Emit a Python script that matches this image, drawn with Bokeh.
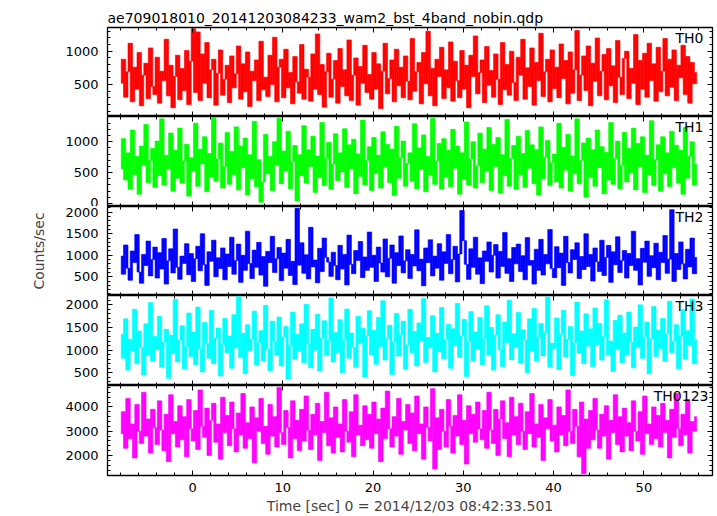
import numpy as np
from bokeh.plotting import figure
from bokeh.layouts import column
from bokeh.models import LinearAxis, SingleIntervalTicker, Range1d, Label, CustomJSTickFormatter, ColumnDataSource
from bokeh.embed import file_html
from bokeh.resources import INLINE

title_text = "ae709018010_20141203084233_wam2_bst_4band_nobin.qdp"
x_label = "Time [sec] 0 = 2014/12/03 08:42:33.501"
y_label = "Counts/sec"
band_names = ["TH0", "TH1", "TH2", "TH3", "TH0123"]
band_colors = ["#ff0000", "#00ff00", "#0000ff", "#00ffff", "#ff00ff"]
y_lo = [20, -48, 65, 220, 1180]
y_hi = [1356, 1408, 2133, 2205, 4880]
y_major = [500, 500, 500, 500, 1000]
x_lo, x_hi = -9.42, 57.6
t_start, t_end = -7.9, 55.85

th0 = [
    520, 880, 310, 690, 1120, 240, 760, 430, 980, 180, 640, 820, 290, 1050, 470, 350,
    910, 220, 700, 560, 1180, 330, 790, 150, 620, 940, 270, 740, 410, 1010, 200, 850,
    1340, 380, 1290, 260, 960, 520, 1130, 300, 720, 880, 190, 670, 1020, 340, 580, 790,
    230, 930, 450, 660, 1080, 280, 810, 390, 990, 170, 700, 560, 870, 260, 1150, 420,
    610, 320, 940, 500, 1210, 240, 760, 880, 300, 1030, 450, 680, 210, 920, 540, 370,
    1100, 280, 730, 610, 250, 960, 430, 1260, 350, 800, 160, 690, 970, 310, 580, 860,
    220, 1040, 470, 720, 330, 1170, 260, 640, 900, 190, 770, 520, 1090, 380, 650, 280,
    980, 430, 810, 140, 700, 1120, 360, 590, 870, 240, 1030, 480, 760, 300, 930, 550,
    270, 1190, 400, 690, 830, 210, 980, 510, 1300, 330, 740, 180, 880, 620, 1060, 290,
    720, 450, 1140, 250, 850, 560, 300, 1010, 430, 790, 150, 940, 620, 1230, 360, 680,
    870, 230, 1070, 490, 710, 310, 960, 580, 200, 1130, 420, 800, 340, 1000, 530, 260,
    910, 640, 1180, 280, 750, 470, 1050, 190, 830, 560, 1270, 320, 690, 880, 240, 1020,
    440, 760, 300, 1110, 590, 860, 210, 990, 370, 720, 1310, 260, 640, 930, 410, 1080,
    180, 820, 550, 1200, 330, 700, 950, 270, 1040, 480, 780, 230, 1160, 610, 350, 890,
    1000, 290, 740, 520, 1250, 200, 860, 430, 970, 310, 1120, 560, 810, 250, 1060, 390,
    700, 1190, 330, 880, 460, 1020, 260, 790, 600, 1090, 350, 920, 220, 830, 510, 680,
]

th1 = [
    560, 1050, 380, 820, 230, 1190, 470, 760, 150, 930, 620, 1280, 340, 700, 890, 260,
    1010, 450, 1370, 300, 780, 560, 1140, 200, 860, 410, 1220, 330, 690, 960, 120, 740,
    520, 1300, 280, 880, 640, 1080, 190, 810, 430, 1390, 360, 720, 980, 250, 600, 1150,
    310, 840, 470, 1240, 220, 930, 580, 1060, 140, 790, 400, 1330, 270, 710, 20, 350,
    1120, 480, 760, 210, 1000, 620, 1380, 320, 850, 530, 1170, 240, 680, 940, 40, 790,
    450, 1260, 330, 870, 600, 1090, 180, 770, 420, 1310, 290, 730, 990, 230, 640, 1130,
    370, 820, 510, 1210, 260, 950, 560, 1040, 160, 800, 440, 1350, 300, 700, 920, 210,
    1070, 490, 780, 250, 1160, 590, 960, 340, 880, 130, 1250, 410, 740, 1010, 280, 650,
    820, 360, 1290, 240, 900, 550, 1110, 190, 760, 460, 1380, 310, 690, 970, 230, 1050,
    430, 860, 270, 1200, 570, 930, 150, 820, 390, 1320, 300, 720, 1000, 250, 610, 1140,
    340, 880, 520, 1230, 210, 960, 600, 1070, 170, 790, 450, 1360, 280, 730, 940, 230,
    1090, 470, 810, 260, 1180, 570, 950, 320, 870, 140, 1240, 400, 750, 1020, 290, 660,
    800, 350, 1300, 250, 910, 540, 1120, 200, 770, 480, 1370, 320, 700, 980, 100, 1060,
    420, 870, 280, 1190, 580, 920, 160, 830, 380, 1310, 310, 730, 1010, 240, 620, 1150,
    350, 890, 500, 1220, 220, 970, 590, 1080, 180, 780, 460, 1340, 290, 710, 950, 200,
    1080, 480, 820, 270, 1170, 580, 940, 330, 860, 150, 1230, 410, 760, 1000, 300, 640,
]

th2 = [
    980, 560, 1240, 700, 420, 1100, 830, 1480, 610, 350, 1020, 760, 1330, 520, 900, 1190,
    470, 1060, 680, 1390, 330, 870, 1150, 590, 1610, 720, 440, 980, 810, 1270, 550, 1040,
    390, 920, 1210, 640, 1500, 780, 300, 1080, 860, 1350, 500, 940, 690, 1170, 430, 1030,
    740, 1420, 560, 880, 1260, 370, 1000, 650, 1560, 810, 460, 1120, 720, 1300, 540, 970,
    280, 1090, 830, 1440, 600, 920, 1180, 410, 1050, 700, 1370, 530, 860, 320, 2090, 770,
    1290, 580, 1010, 450, 1650, 730, 890, 360, 1160, 620, 1400, 950, 840, 510, 1070, 760,
    430, 1230, 680, 1020, 310, 1470, 790, 570, 1110, 880, 1320, 480, 960, 650, 1540, 720,
    1000, 390, 1190, 820, 610, 1380, 500, 930, 1240, 350, 1060, 760, 1450, 590, 870, 1130,
    460, 1020, 750, 1590, 640, 910, 290, 1170, 830, 1360, 520, 980, 700, 1270, 420, 1080,
    810, 1480, 570, 900, 1210, 380, 1030, 2040, 1340, 790, 440, 1150, 720, 1420, 560, 940,
    340, 1100, 860, 1310, 610, 1000, 1250, 470, 1090, 740, 1530, 580, 920, 390, 1180, 800,
    1260, 620, 990, 430, 1410, 770, 880, 330, 1140, 650, 1370, 540, 1020, 800, 1600, 690,
    480, 1200, 710, 1050, 300, 1440, 830, 590, 1130, 900, 1290, 460, 970, 670, 1500, 740,
    1020, 400, 1170, 850, 620, 1350, 530, 950, 1230, 370, 1080, 780, 1430, 600, 880, 1110,
    470, 1040, 760, 1560, 650, 920, 310, 1160, 840, 1330, 510, 990, 710, 1280, 430, 1070,
    830, 1460, 580, 910, 2060, 390, 1040, 670, 1310, 800, 450, 1140, 730, 1400, 570, 950,
]

th3 = [
    1350, 820, 1690, 560, 1240, 980, 1900, 700, 1420, 1060, 450, 1580, 890, 2050, 760, 1300,
    1010, 1750, 620, 1180, 1460, 380, 1330, 920, 2120, 740, 1220, 1540, 590, 1080, 1820, 860,
    1400, 680, 1950, 1030, 520, 1610, 1150, 820, 1880, 700, 1260, 1490, 430, 1120, 1700, 940,
    1310, 600, 1780, 1050, 2180, 830, 1370, 480, 1560, 990, 1240, 1860, 670, 1160, 1430, 760,
    1990, 1020, 550, 1640, 1190, 890, 1730, 650, 1290, 1520, 360, 1100, 1840, 800, 1350, 970,
    1580, 720, 2010, 1140, 610, 1460, 1000, 1790, 540, 1270, 1650, 880, 1210, 2150, 740, 1390,
    950, 1670, 500, 1230, 1910, 820, 1380, 1060, 620, 1750, 1150, 1480, 410, 1320, 1870, 900,
    1440, 690, 1720, 1080, 2090, 780, 1250, 1550, 460, 1180, 1810, 870, 1340, 1640, 580, 1120,
    1900, 940, 1410, 650, 1600, 1200, 2140, 730, 1280, 1050, 1760, 520, 1370, 960, 1940, 810,
    1230, 1570, 600, 1470, 1100, 2030, 840, 1310, 1680, 420, 1190, 1850, 760, 1400, 1020, 1720,
    680, 1260, 1980, 890, 1500, 560, 1330, 1780, 1010, 640, 1620, 1170, 2100, 790, 1360, 1060,
    1830, 710, 1450, 1230, 500, 1690, 980, 1920, 760, 1280, 1590, 870, 1390, 2170, 620, 1150,
    1040, 1710, 570, 1350, 1880, 850, 1240, 1520, 440, 1160, 2060, 930, 1420, 700, 1800, 1090,
    1470, 640, 1930, 1120, 1590, 780, 1300, 2110, 890, 1200, 530, 1660, 1010, 1770, 720, 1380,
    900, 1840, 1180, 610, 1510, 1070, 2000, 820, 1290, 1620, 480, 1250, 1960, 860, 1440, 1030,
    1700, 750, 1360, 2080, 940, 1190, 1560, 590, 1310, 1890, 800, 1430, 1110, 2130, 700, 1240,
]

th0123 = [
    2900, 3800, 2300, 4350, 2700, 3300, 1900, 4100, 3000, 2500, 4600, 2800, 3500, 2100, 3900, 3150,
    2450, 4250, 3050, 2200, 3700, 1750, 4500, 2900, 3400, 2350, 4050, 2650, 3600, 1950, 4300, 3100,
    2600, 3850, 2250, 4700, 3200, 2750, 3950, 2000, 3450, 4150, 2550, 3300, 1850, 4400, 2950, 3650,
    2400, 4200, 3100, 2150, 3750, 2850, 4550, 2300, 3350, 2700, 4000, 1700, 3550, 3000, 4350, 2500,
    3200, 2050, 4100, 2800, 3600, 2350, 4800, 2950, 2450, 3850, 3150, 1900, 4250, 2700, 3450, 2200,
    3900, 2600, 4450, 3050, 2250, 3700, 2850, 4150, 1800, 3400, 2950, 4600, 2400, 3550, 2100, 4000,
    2750, 3300, 2150, 4300, 3000, 2550, 3800, 1950, 4500, 2850, 3250, 2400, 4050, 2650, 3700, 2300,
    4200, 2900, 3500, 1750, 3950, 2700, 4650, 3100, 2350, 3600, 2800, 4350, 2050, 3400, 3050, 4100,
    2500, 3750, 2200, 4450, 2900, 3300, 1850, 4000, 3150, 2600, 4750, 1450, 3550, 2250, 3900, 3000,
    2350, 4300, 3200, 2100, 3650, 2800, 4500, 2450, 3450, 1650, 4050, 2900, 3700, 2550, 4200, 3100,
    2650, 3850, 2300, 4600, 3050, 2500, 3900, 2000, 3500, 4250, 2700, 3350, 1950, 4400, 2850, 3600,
    2450, 4150, 3000, 2250, 3800, 2900, 4550, 2350, 3300, 2750, 4100, 1800, 3550, 3100, 4300, 2600,
    3250, 2150, 4000, 2850, 3650, 2400, 4700, 3000, 2500, 3900, 3200, 1950, 4200, 1250, 3500, 2300,
    3850, 2650, 4350, 3050, 2300, 3700, 2800, 4050, 1850, 3450, 2950, 4500, 2450, 3600, 2150, 3950,
    2800, 3350, 2200, 4250, 3000, 2600, 3800, 2050, 4450, 2900, 3300, 2450, 4000, 2700, 3650, 2350,
    4150, 2950, 3450, 1900, 3900, 2750, 4550, 3100, 2400, 3700, 2850, 4300, 2100, 3400, 3000, 3600,
]

series = [th0, th1, th2, th3, th0123]

FONT = "DejaVu Sans"
FRAME_W = 605
FRAME_HS = [89, 90, 89, 90, 90]
x_range = Range1d(x_lo, x_hi)


def make_axis(ticker, labels, size="13px", standoff=9):
    ax = LinearAxis(
        ticker=ticker,
        major_tick_in=5, major_tick_out=0,
        minor_tick_in=3, minor_tick_out=0,
        axis_line_color=None,
        major_tick_line_color="black", minor_tick_line_color="black",
        major_label_text_font=FONT,
        major_label_text_color="black",
        major_label_text_font_size=size,
        major_label_standoff=standoff if labels else 0,
    )
    if not labels:
        ax.formatter = CustomJSTickFormatter(code="return ''")
    return ax


figs = []
n = len(series)
for k in range(n):
    first = k == 0
    last = k == n - 1
    kw = dict(
        frame_width=FRAME_W, frame_height=FRAME_HS[k],
        x_range=x_range, y_range=Range1d(y_lo[k], y_hi[k]),
        output_backend="svg", toolbar_location=None,
        x_axis_location=None, y_axis_location=None,
        min_border_left=107, min_border_right=3,
        min_border_top=27 if first else 0, min_border_bottom=0,
        background_fill_color="white", border_fill_color="white",
        outline_line_color="black", outline_line_width=1.3,
    )
    if first:
        kw["title"] = title_text
    p = figure(**kw)
    p.grid.visible = False
    if first:
        p.title.text_font = FONT
        p.title.text_font_size = "14px"
        p.title.text_font_style = "normal"
        p.title.text_color = "black"
        p.title.standoff = 4
        p.title.align = "left"

    # dense light curve: each time step drawn as the vertical span the curve
    # sweeps between consecutive samples (min/max per step)
    vals = np.asarray(series[k], dtype=float)
    t = np.linspace(t_start, t_end, len(vals))
    dt = t[1] - t[0]
    src = ColumnDataSource(dict(
        x=(t[:-1] + t[1:]) / 2,
        top=np.maximum(vals[:-1], vals[1:]),
        bottom=np.minimum(vals[:-1], vals[1:]),
    ))
    p.vbar(x="x", top="top", bottom="bottom", width=dt, source=src,
           fill_color=band_colors[k], line_color=band_colors[k], line_width=0.6)

    yt = lambda: SingleIntervalTicker(interval=y_major[k], num_minor_ticks=5)
    xt = lambda: SingleIntervalTicker(interval=10, num_minor_ticks=5)

    left = make_axis(yt(), True)
    if k == 2:
        left.axis_label = y_label
        left.axis_label_text_font = FONT
        left.axis_label_text_font_size = "14px"
        left.axis_label_text_font_style = "normal"
        left.axis_label_standoff = 15
    p.add_layout(left, "left")
    p.add_layout(make_axis(yt(), False), "right")
    p.add_layout(make_axis(xt(), False), "above")
    below = make_axis(xt(), last, size="13px", standoff=7)
    if last:
        below.axis_label = x_label
        below.axis_label_text_font = FONT
        below.axis_label_text_font_size = "14px"
        below.axis_label_text_font_style = "normal"
        below.axis_label_standoff = 3
    p.add_layout(below, "below")

    p.add_layout(Label(
        x=x_hi, y=y_hi[k], x_offset=-4 if last else -9, y_offset=-2,
        text=band_names[k], text_align="right", text_baseline="top",
        text_font=FONT, text_font_size="14px", text_color="black",
    ))
    figs.append(p)

layout = column(*figs, spacing=0)
open("out.html", "w").write(file_html(layout, INLINE))
